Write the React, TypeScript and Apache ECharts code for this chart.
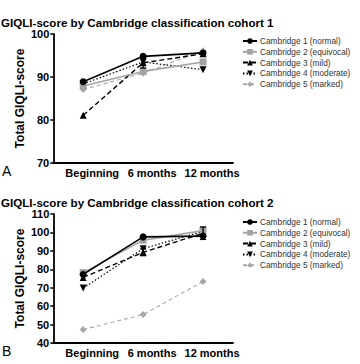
import React, { useEffect, useRef } from "react";
import * as echarts from "echarts";

const categories = ["Beginning", "6 months", "12 months"];
const seriesNames = [
  "Cambridge 1 (normal)",
  "Cambridge 2 (equivocal)",
  "Cambridge 3 (mild)",
  "Cambridge 4 (moderate)",
  "Cambridge 5 (marked)",
];
const yTicksA = [70, 80, 90, 100];
const yTicksB = [40, 50, 60, 70, 80, 90, 100, 110];

const cohort1C1 = [88.9, 94.8, 95.6];
const cohort1C2 = [87.9, 91.3, 93.5];
const cohort1C3 = [81.1, 93.3, 95.4];
const cohort1C4 = [88.4, 93.5, 91.7];
const cohort1C5 = [87.1, 90.9, 96.1];
const cohort1C3Err = [0, 1.2, 0];

const cohort2C1 = [77.2, 97.6, 98.0];
const cohort2C2 = [78.2, 95.8, 101.0];
const cohort2C3 = [75.6, 89.2, 99.6];
const cohort2C4 = [69.8, 91.2, 100.6];
const cohort2C5 = [47.3, 55.4, 73.4];
const cohort2C3Err = [0, 1.8, 3.4];

const FONT = "'Liberation Sans', Arial, Helvetica, sans-serif";

const styles = [
  { color: "#000000", symbol: "circle", size: 7, type: "solid", width: 1.6, rotate: 0 },
  { color: "#a3a3a3", symbol: "rect", size: 7, type: "solid", width: 1.6, rotate: 0 },
  { color: "#000000", symbol: "triangle", size: 7, type: [5, 3], width: 1.4, rotate: 0 },
  { color: "#000000", symbol: "triangle", size: 7, type: [1.5, 2], width: 1.2, rotate: 180 },
  { color: "#a8a8a8", symbol: "diamond", size: 7, type: [4, 3], width: 1.1, rotate: 0 },
];

export default function App() {
  const ref = useRef<HTMLDivElement>(null);
  useEffect(() => {
    if (!ref.current) return;
    const chart = echarts.init(ref.current, null, { renderer: "svg" });
    const dataA = [cohort1C1, cohort1C2, cohort1C3, cohort1C4, cohort1C5];
    const dataB = [cohort2C1, cohort2C2, cohort2C3, cohort2C4, cohort2C5];

    const mkSeries = (data: number[][], idx: number) =>
      data.map((d, i) => ({
        type: "line",
        name: seriesNames[i],
        xAxisIndex: idx,
        yAxisIndex: idx,
        data: d,
        symbol: styles[i].symbol,
        symbolSize: styles[i].size,
        symbolRotate: styles[i].rotate,
        itemStyle: { color: styles[i].color },
        lineStyle: { color: styles[i].color, type: styles[i].type, width: styles[i].width },
        z: 10 - i,
      }));

    const errSeries = (vals: number[], err: number[], idx: number) => ({
      type: "custom",
      xAxisIndex: idx,
      yAxisIndex: idx,
      data: vals.map((v, i) => [i, v, err[i]]),
      z: 20,
      renderItem: (params: any, api: any) => {
        const x = api.value(0);
        const y = api.value(1);
        const e = api.value(2);
        if (!e) return null;
        const top = api.coord([x, y + e]);
        const bot = api.coord([x, y - e]);
        const st = { stroke: "#000", lineWidth: 1.3 };
        return {
          type: "group",
          children: [
            { type: "line", shape: { x1: top[0], y1: top[1], x2: bot[0], y2: bot[1] }, style: st },
            { type: "line", shape: { x1: top[0] - 3, y1: top[1], x2: top[0] + 3, y2: top[1] }, style: st },
            { type: "line", shape: { x1: bot[0] - 3, y1: bot[1], x2: bot[0] + 3, y2: bot[1] }, style: st },
          ],
        };
      },
    });

    const xAxis = (idx: number) => ({
      type: "category",
      gridIndex: idx,
      data: categories,
      boundaryGap: true,
      axisLine: { lineStyle: { color: "#000", width: 1.8 } },
      axisTick: { show: false },
      axisLabel: {
        color: "#000",
        fontWeight: "bold",
        fontSize: 11,
        fontFamily: FONT,
        margin: 4,
        padding: [0, 0, 0, 18],
        interval: 0,
      },
    });
    const yAxis = (idx: number, ticks: number[]) => ({
      type: "value",
      gridIndex: idx,
      min: ticks[0],
      max: ticks[ticks.length - 1],
      interval: 10,
      name: "Total GIQLI-score",
      nameLocation: "middle",
      nameGap: 27,
      nameTextStyle: { color: "#000", fontWeight: "bold", fontSize: 12, fontFamily: FONT },
      axisLine: { show: true, lineStyle: { color: "#000", width: 1.8 } },
      axisTick: { show: true, length: 3, lineStyle: { color: "#000", width: 1.5 } },
      splitLine: { show: false },
      axisLabel: { color: "#000", fontWeight: "bold", fontSize: 11, fontFamily: FONT, margin: 4 },
    });

    const legend = (top: number) => ({
      orient: "vertical",
      left: 242,
      top,
      padding: 0,
      itemWidth: 14,
      itemHeight: 7,
      itemGap: 2.8,
      data: seriesNames,
      textStyle: { color: "#333", fontSize: 8.3, fontFamily: FONT, padding: [0, 0, 0, -2] },
    });

    chart.setOption({
      animation: false,
      backgroundColor: "#fff",
      title: [
        {
          text: "GIQLI-score by Cambridge classification cohort 1",
          left: -4,
          top: 11,
          textStyle: { fontSize: 11.6, fontWeight: "bold", color: "#000", fontFamily: FONT },
        },
        {
          text: "GIQLI-score by Cambridge classification cohort 2",
          left: -4,
          top: 191,
          textStyle: { fontSize: 11.6, fontWeight: "bold", color: "#000", fontFamily: FONT },
        },
      ],
      legend: [legend(37), legend(218)],
      grid: [
        { left: 41, right: 127, top: 34, bottom: 201 },
        { left: 41, right: 127, top: 214, bottom: 21 },
      ],
      xAxis: [xAxis(0), xAxis(1)],
      yAxis: [yAxis(0, yTicksA), yAxis(1, yTicksB)],
      graphic: [
        { type: "text", left: 2, top: 164, style: { text: "A", fontSize: 14, fill: "#000", fontFamily: FONT } },
        { type: "text", left: 2, top: 344, style: { text: "B", fontSize: 14, fill: "#000", fontFamily: FONT } },
      ],
      series: [
        ...mkSeries(dataA, 0),
        ...mkSeries(dataB, 1),
        errSeries(cohort1C3, cohort1C3Err, 0),
        errSeries(cohort2C3, cohort2C3Err, 1),
      ],
    });
    return () => chart.dispose();
  }, []);
  return <div ref={ref} style={{ position: "absolute", left: 0, top: 0, width: 360, height: 364 }} />;
}
